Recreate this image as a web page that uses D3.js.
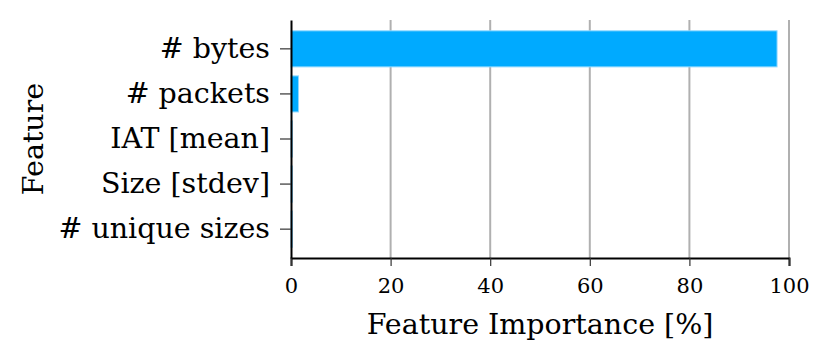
<!DOCTYPE html>
<html>
<head>
<meta charset="utf-8">
<script src="https://cdn.jsdelivr.net/npm/d3@7"></script>
<style>
  body { margin: 0; background: #fff; }
  svg { display: block; font-family: "DejaVu Serif", serif; }
</style>
</head>
<body>
<div id="chart"></div>
<script>
// Data
const features = ["# bytes", "# packets", "IAT [mean]", "Size [stdev]", "# unique sizes"];
const importance = [97.6, 1.5, 0.3, 0.3, 0.3];
const xTicks = [0, 20, 40, 60, 80, 100];

const width = 831, height = 360;
const margin = { top: 20, right: 42, bottom: 102, left: 291 };

const svg = d3.select("#chart").append("svg")
    .attr("width", width)
    .attr("height", height);

const x = d3.scaleLinear()
    .domain([0, 100])
    .range([margin.left, width - margin.right]);

const y = d3.scaleBand()
    .domain(features)
    .range([margin.top, height - margin.bottom])
    .paddingInner(0.2)
    .paddingOuter(0.24);

// Grid lines
svg.append("g")
    .selectAll("line")
    .data(xTicks.slice(1))
    .join("line")
    .attr("x1", d => x(d)).attr("x2", d => x(d))
    .attr("y1", margin.top).attr("y2", height - margin.bottom)
    .attr("stroke", "#b0b0b0")
    .attr("stroke-width", 2);

// Bars
svg.append("g")
    .selectAll("rect")
    .data(features.map((f, i) => ({ f: f, v: importance[i] })))
    .join("rect")
    .attr("x", x(0))
    .attr("y", d => y(d.f))
    .attr("width", d => x(d.v) - x(0))
    .attr("height", y.bandwidth())
    .attr("fill", "#00aaff")
    .attr("stroke", "#8fd8ff")
    .attr("stroke-width", 1);

// X axis
const xAxis = svg.append("g")
    .attr("transform", `translate(0,${height - margin.bottom})`)
    .call(d3.axisBottom(x).tickValues(xTicks).tickSize(8).tickPadding(12));
xAxis.select(".domain").attr("stroke", "#000").attr("stroke-width", 2);
xAxis.selectAll(".tick line").attr("stroke", "#333").attr("stroke-width", 1.2);
xAxis.selectAll("text").attr("font-size", 21).attr("fill", "#000")
    .attr("font-family", "DejaVu Serif");

// Y axis
const yAxis = svg.append("g")
    .attr("transform", `translate(${margin.left},0)`)
    .call(d3.axisLeft(y).tickSize(11).tickPadding(10).tickSizeOuter(0));
yAxis.select(".domain").attr("stroke", "#000").attr("stroke-width", 2);
yAxis.selectAll(".tick line").attr("stroke", "#333").attr("stroke-width", 1.2);
yAxis.selectAll("text").attr("font-size", 28.5).attr("fill", "#000")
    .attr("font-family", "DejaVu Serif");

// Axis labels
svg.append("text")
    .attr("x", x(50))
    .attr("y", 334)
    .attr("text-anchor", "middle")
    .attr("font-size", 28.5)
    .text("Feature Importance [%]");

svg.append("text")
    .attr("transform", `translate(43,${(margin.top + height - margin.bottom) / 2}) rotate(-90)`)
    .attr("text-anchor", "middle")
    .attr("font-size", 28.5)
    .text("Feature");
</script>
</body>
</html>
